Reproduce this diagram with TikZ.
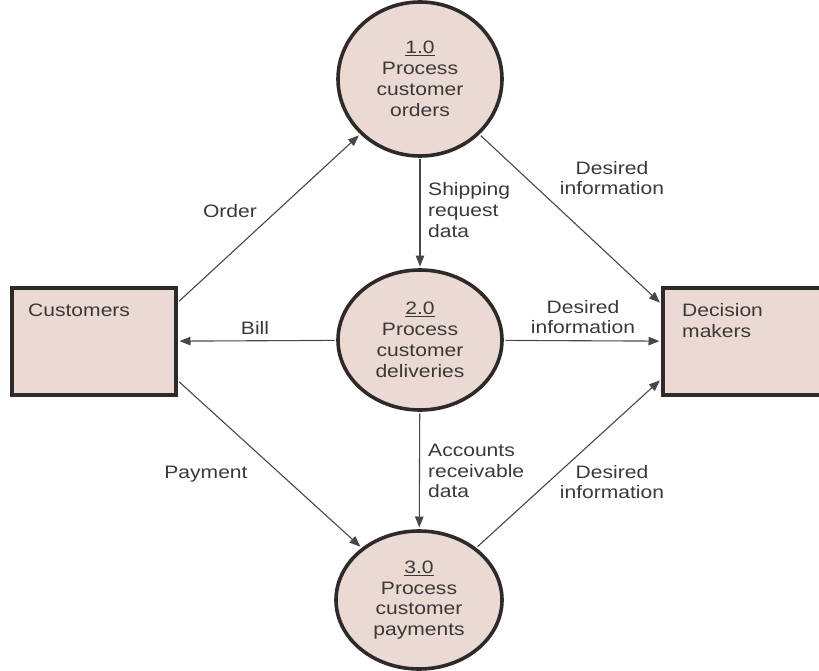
\documentclass[tikz,border=0pt]{standalone}
\usepackage{fontspec}
\setmainfont[FakeStretch=1.17]{Liberation Sans}
\usetikzlibrary{shapes.geometric,arrows.meta}
\definecolor{procfill}{HTML}{EBDAD4}
\definecolor{edgedark}{HTML}{2F2A2A}
\definecolor{inkgray}{HTML}{3C3838}
\definecolor{flowgray}{HTML}{4A4646}

\begin{document}
\begin{tikzpicture}[x=1pt,y=-1pt,
  every node/.style={font=\fontsize{18}{20.8}\selectfont, text=inkgray},
  process/.style={ellipse, draw=edgedark, fill=procfill, line width=3.6pt,
                  inner sep=0pt, align=center},
  entity/.style={rectangle, draw=edgedark, fill=procfill, line width=3.6pt,
                 inner sep=0pt},
  flow/.style={draw=flowgray, line width=1.1pt, shorten >=1.7pt, shorten <=1.7pt,
               -{Triangle[length=11pt,width=8.5pt]}},
  lbl/.style={inner sep=0pt, align=center},
  lbll/.style={inner sep=0pt, align=left, anchor=west},
]
\useasboundingbox (0,0) rectangle (819,671);

% external entities
\node[entity, minimum width=164pt, minimum height=107pt] (cust) at (94,341.5) {};
\node[entity, minimum width=158pt, minimum height=107pt] (dm) at (742,341.5) {};
\node[lbll] (custtext) at (28,310) {Customers};
\node[lbll] (dmtext) at (682,320.5) {Decision\\makers};

% processes
\node[process, minimum width=164pt, minimum height=154pt] (p1) at (420,79)
  {\underline{1.0}\\Process\\customer\\orders};
\node[process, minimum width=164pt, minimum height=140pt] (p2) at (420,340)
  {\underline{2.0}\\Process\\customer\\deliveries};
\node[process, minimum width=166pt, minimum height=138pt] (p3) at (419,600)
  {\underline{3.0}\\Process\\customer\\payments};

% data flows
\draw[flow] (cust.25) -- (p1);
\draw[flow] (cust.-25) -- (p3);
\draw[flow] (p2) -- (cust);
\draw[flow] (p1) -- (p2);
\draw[flow] (p2) -- (p3);
\draw[flow] (p1) -- (dm.155);
\draw[flow] (p2) -- (dm);
\draw[flow] (p3) -- (dm.205);

% flow labels
\node[lbl] (lorder) at (230,211) {Order};
\node[lbl] (lbill) at (255,328) {Bill};
\node[lbl] (lpay) at (206,474) {Payment};
\node[lbll] (lship) at (428,210) {Shipping\\request\\data};
\node[lbll] (lacc) at (428,471) {Accounts\\receivable\\data};
\node[lbl] (ldes1) at (612,178) {Desired\\information};
\node[lbl] (ldes2) at (583,317) {Desired\\information};
\node[lbl] (ldes3) at (612,482) {Desired\\information};
\end{tikzpicture}
\end{document}
